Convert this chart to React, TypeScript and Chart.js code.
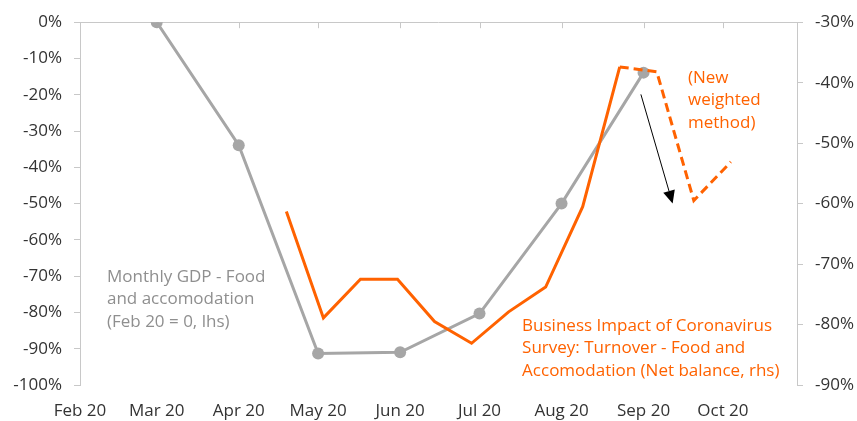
import React, { useEffect, useRef } from "react";
import { Chart, registerables } from "chart.js";

Chart.register(...registerables);

// ---- data ----
const monthLabels = ["Feb 20", "Mar 20", "Apr 20", "May 20", "Jun 20", "Jul 20", "Aug 20", "Sep 20", "Oct 20"];
const monthStarts = ["2020-02-01", "2020-03-01", "2020-04-01", "2020-05-01", "2020-06-01", "2020-07-01", "2020-08-01", "2020-09-01", "2020-10-01"];
const axisStart = "2020-02-01";
const axisEnd = "2020-10-29";

const gdpDates = ["2020-03-01", "2020-04-01", "2020-05-01", "2020-06-01", "2020-07-01", "2020-08-01", "2020-09-01"];
const gdpValues = [0, -33.9, -91.3, -91.0, -80.3, -50.0, -13.9];

const surveyDates = ["2020-04-19", "2020-05-03", "2020-05-17", "2020-05-31", "2020-06-14", "2020-06-28", "2020-07-12", "2020-07-26", "2020-08-09", "2020-08-23", "2020-09-06", "2020-09-20", "2020-10-04"];
const surveyValues = [-61.3, -78.9, -72.5, -72.5, -79.5, -83.1, -77.9, -73.8, -60.5, -37.4, -38.2, -59.5, -53.1];
const newMethodFromIndex = 9;

const lhsTicks = { min: -100, max: 0, step: 10 };
const rhsTicks = { min: -90, max: -30, step: 10 };

const gdpNote = ["Monthly GDP - Food", "and accomodation", "(Feb 20 = 0, lhs)"];
const surveyNote = ["Business Impact of Coronavirus", "Survey: Turnover - Food and", "Accomodation (Net balance, rhs)"];
const methodNote = ["(New", "weighted", "method)"];
// arrow from/to in (date, lhs value)
const arrowFrom = { date: "2020-08-31", value: -19.9 };
const arrowTo = { date: "2020-09-12", value: -50 };

// ---- helpers ----
const DAY = 86400000;
const dayOf = (d: string) => (Date.parse(d) - Date.parse(axisStart)) / DAY;

const ORANGE = "#ff6200";
const GREY = "#a6a6a6";
const TEXT = "#333333";
const AXIS = "#c8c8c8";
const FONT = '"Open Sans", sans-serif';

const annotations = {
  id: "annotations",
  beforeDatasetsDraw(chart: any) {
    const { ctx, chartArea } = chart;
    const x = chart.scales.x;
    const yL = chart.scales.yL;
    const y0 = yL.getPixelForValue(0);
    ctx.save();
    ctx.strokeStyle = AXIS;
    ctx.lineWidth = 1;
    ctx.beginPath();
    ctx.moveTo(chartArea.left, Math.round(y0) + 0.5);
    ctx.lineTo(chartArea.right, Math.round(y0) + 0.5);
    monthStarts.forEach((d) => {
      const px = Math.round(x.getPixelForValue(dayOf(d))) + 0.5;
      ctx.moveTo(px, y0);
      ctx.lineTo(px, y0 + 6);
    });
    ctx.stroke();
    ctx.restore();
  },
  afterDraw(chart: any) {
    const { ctx } = chart;
    const x = chart.scales.x;
    const yL = chart.scales.yL;
    const yR = chart.scales.yR;
    ctx.save();
    ctx.font = `17px ${FONT}`;
    ctx.textBaseline = "alphabetic";
    ctx.textAlign = "left";
    const lineH = 22.5;
    // GDP note
    ctx.fillStyle = "#8f8f8f";
    let bx = x.getPixelForValue(10.2);
    let by = yL.getPixelForValue(-71.6);
    gdpNote.forEach((t, i) => ctx.fillText(t, bx, by + i * lineH));
    // survey note
    ctx.fillStyle = ORANGE;
    bx = x.getPixelForValue(167.1);
    by = yR.getPixelForValue(-81.0);
    surveyNote.forEach((t, i) => ctx.fillText(t, bx, by + i * lineH));
    // method note
    bx = x.getPixelForValue(229.8);
    by = yR.getPixelForValue(-40.0);
    methodNote.forEach((t, i) => ctx.fillText(t, bx, by + i * lineH));
    // arrow
    const x1 = x.getPixelForValue(dayOf(arrowFrom.date));
    const y1 = yL.getPixelForValue(arrowFrom.value);
    const x2 = x.getPixelForValue(dayOf(arrowTo.date));
    const y2 = yL.getPixelForValue(arrowTo.value);
    const ang = Math.atan2(y2 - y1, x2 - x1);
    const hl = 13, hw = 6;
    const bxp = x2 - hl * Math.cos(ang);
    const byp = y2 - hl * Math.sin(ang);
    ctx.strokeStyle = "#000";
    ctx.lineWidth = 1;
    ctx.beginPath();
    ctx.moveTo(x1, y1);
    ctx.lineTo(bxp, byp);
    ctx.stroke();
    ctx.fillStyle = "#000";
    ctx.beginPath();
    ctx.moveTo(x2, y2);
    ctx.lineTo(bxp + hw * Math.sin(ang), byp - hw * Math.cos(ang));
    ctx.lineTo(bxp - hw * Math.sin(ang), byp + hw * Math.cos(ang));
    ctx.closePath();
    ctx.fill();
    ctx.restore();
  },
};

export default function App() {
  const ref = useRef<HTMLCanvasElement | null>(null);
  useEffect(() => {
    document.body.style.margin = "0";
    const canvas = ref.current;
    if (!canvas) return;
    const monthDays = monthStarts.map(dayOf);
    const chart = new Chart(canvas, {
      type: "line",
      data: {
        datasets: [
          {
            label: "Monthly GDP - Food and accomodation",
            data: gdpDates.map((d, i) => ({ x: dayOf(d), y: gdpValues[i] })),
            yAxisID: "yL",
            borderColor: GREY,
            backgroundColor: GREY,
            borderWidth: 3,
            pointRadius: 6,
            pointBorderWidth: 0,
            pointBackgroundColor: GREY,
            order: 1,
          },
          {
            label: "Business Impact of Coronavirus Survey",
            data: surveyDates.map((d, i) => ({ x: dayOf(d), y: surveyValues[i] })),
            yAxisID: "yR",
            borderColor: ORANGE,
            borderWidth: 3,
            pointRadius: 0,
            order: 0,
            segment: {
              borderDash: (c: any) => (c.p0DataIndex >= newMethodFromIndex ? [9, 5] : undefined),
            },
          },
        ],
      },
      options: {
        animation: false,
        responsive: false,
        maintainAspectRatio: false,
        layout: { padding: { top: 19, left: 0, right: 0, bottom: 0 } },
        plugins: { legend: { display: false }, tooltip: { enabled: false } },
        scales: {
          x: {
            type: "linear",
            min: 0,
            max: dayOf(axisEnd),
            grid: { display: false, drawTicks: false },
            border: { display: false },
            afterBuildTicks: (s: any) => {
              s.ticks = monthDays.map((v) => ({ value: v }));
            },
            afterFit: (s: any) => {
              s.height = 36;
            },
            ticks: {
              autoSkip: false,
              maxRotation: 0,
              padding: 16,
              color: TEXT,
              font: { family: FONT, size: 17 },
              callback: (_v: any, i: number) => monthLabels[i],
            },
          },
          yL: {
            position: "left",
            min: lhsTicks.min,
            max: lhsTicks.max,
            grid: { drawOnChartArea: false, color: AXIS, tickLength: 6 },
            border: { color: AXIS },
            afterFit: (s: any) => {
              s.width = 80;
            },
            ticks: {
              stepSize: lhsTicks.step,
              padding: 12,
              color: TEXT,
              font: { family: FONT, size: 17 },
              callback: (v: any) => `${v}%`,
            },
          },
          yR: {
            position: "right",
            min: rhsTicks.min,
            max: rhsTicks.max,
            grid: { drawOnChartArea: false, color: AXIS, tickLength: 6 },
            border: { color: AXIS },
            afterFit: (s: any) => {
              s.width = 60;
            },
            ticks: {
              stepSize: rhsTicks.step,
              padding: 12,
              color: TEXT,
              font: { family: FONT, size: 17 },
              callback: (v: any) => `${v}%`,
            },
          },
        },
      },
      plugins: [annotations],
    } as any);
    return () => chart.destroy();
  }, []);
  return (
    <div style={{ width: 857, height: 421, position: "relative" }}>
      <canvas ref={ref} width={857} height={421} style={{ width: 857, height: 421, display: "block" }} />
    </div>
  );
}
